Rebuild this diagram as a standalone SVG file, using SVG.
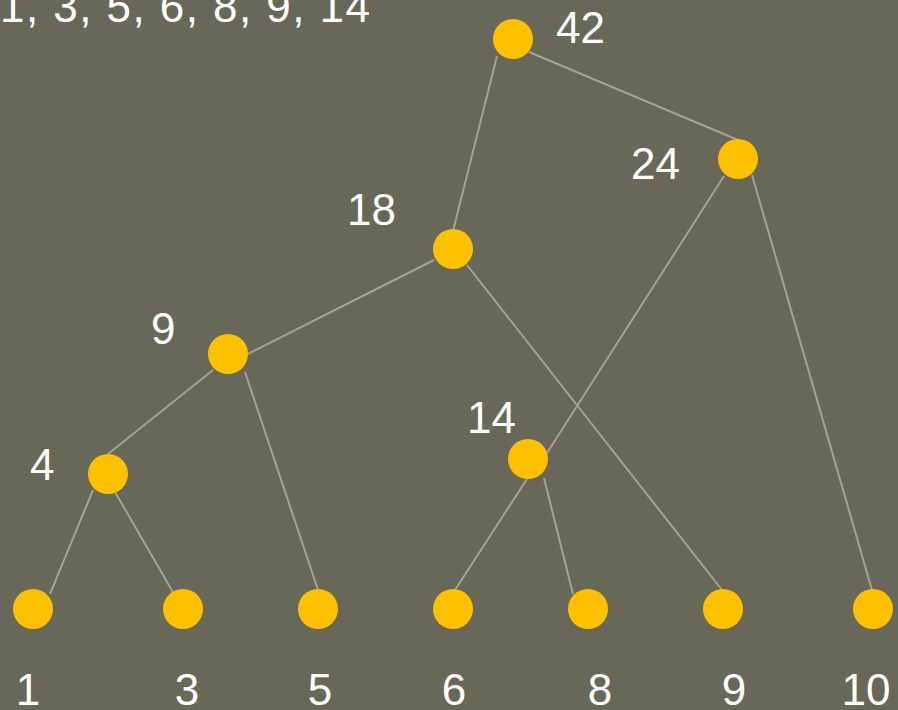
<svg xmlns="http://www.w3.org/2000/svg" width="898" height="710" viewBox="0 0 898 710">
<style>
.bg{fill:#686859}
.e{stroke:#a3a394;stroke-width:2;fill:none}
.n{fill:#ffc000}
.t{fill:#ffffff;font-family:"Liberation Sans",Arial,sans-serif;font-size:44px}
</style>
<rect class="bg" x="0" y="0" width="898" height="710"/>
<text class="t" x="0" y="22" textLength="370" lengthAdjust="spacing">1, 3, 5, 6, 8, 9, 14</text>
<g id="connectors">
<line class="e" x1="497" y1="56" x2="453" y2="231"/>
<line class="e" x1="529" y1="52" x2="738" y2="140"/>
<line class="e" x1="724" y1="176" x2="547" y2="453"/>
<line class="e" x1="752" y1="175" x2="872" y2="590"/>
<line class="e" x1="434" y1="260" x2="248" y2="354"/>
<line class="e" x1="467" y1="265" x2="722" y2="590"/>
<line class="e" x1="213" y1="370" x2="108" y2="454"/>
<line class="e" x1="245" y1="372" x2="318" y2="590"/>
<line class="e" x1="93" y1="490" x2="50" y2="594"/>
<line class="e" x1="115" y1="492" x2="174" y2="594"/>
<line class="e" x1="527" y1="479" x2="455" y2="590"/>
<line class="e" x1="544" y1="478" x2="573" y2="594"/>
</g>
<g id="n42"><circle class="n" cx="513" cy="39" r="20"/><text class="t" x="556" y="43">42</text></g>
<g id="n24"><circle class="n" cx="738" cy="159" r="20"/><text class="t" x="631" y="179">24</text></g>
<g id="n18"><circle class="n" cx="453" cy="249" r="20"/><text class="t" x="347" y="225">18</text></g>
<g id="n9"><circle class="n" cx="228" cy="354" r="20"/><text class="t" x="151" y="344">9</text></g>
<g id="n4"><circle class="n" cx="108" cy="474" r="20"/><text class="t" x="30" y="480">4</text></g>
<g id="n14"><circle class="n" cx="528" cy="459" r="20"/><text class="t" x="467" y="433">14</text></g>
<g id="leaf1"><circle class="n" cx="33" cy="609" r="20"/><text class="t" x="28" y="705" text-anchor="middle">1</text></g>
<g id="leaf3"><circle class="n" cx="183" cy="609" r="20"/><text class="t" x="187" y="705" text-anchor="middle">3</text></g>
<g id="leaf5"><circle class="n" cx="318" cy="609" r="20"/><text class="t" x="320" y="705" text-anchor="middle">5</text></g>
<g id="leaf6"><circle class="n" cx="453" cy="609" r="20"/><text class="t" x="454" y="705" text-anchor="middle">6</text></g>
<g id="leaf8"><circle class="n" cx="588" cy="609" r="20"/><text class="t" x="600" y="705" text-anchor="middle">8</text></g>
<g id="leaf9"><circle class="n" cx="723" cy="609" r="20"/><text class="t" x="734" y="705" text-anchor="middle">9</text></g>
<g id="leaf10"><circle class="n" cx="873" cy="609" r="20"/><text class="t" x="866" y="705" text-anchor="middle">10</text></g>
</svg>
